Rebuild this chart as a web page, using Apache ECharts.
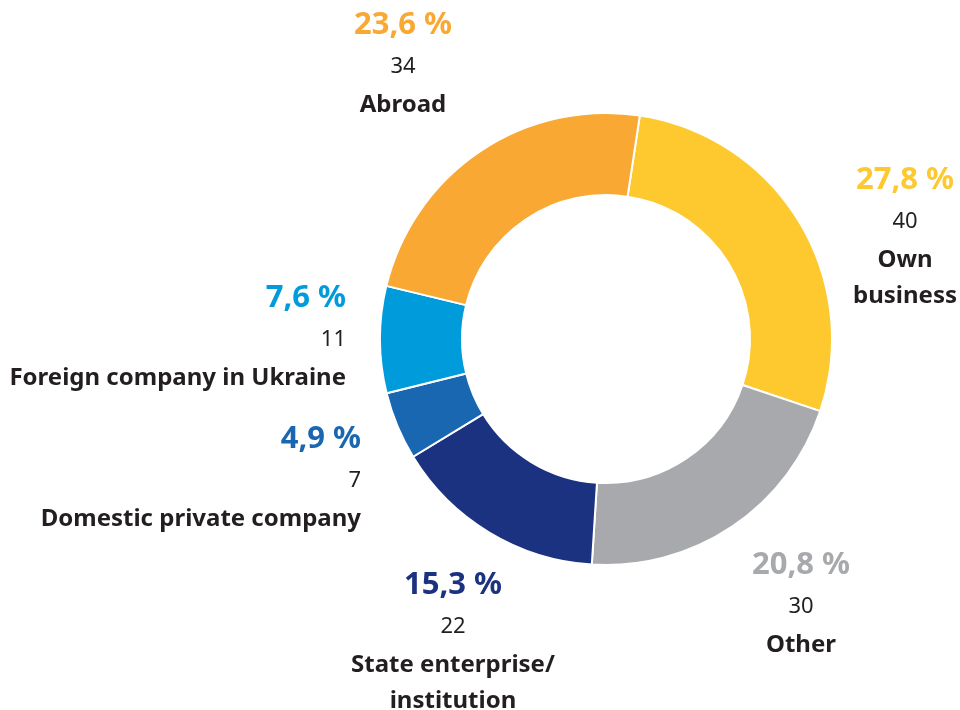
<!DOCTYPE html>
<html>
<head>
<meta charset="utf-8">
<script src="https://cdn.jsdelivr.net/npm/echarts@6/dist/echarts.min.js"></script>
<style>
  html, body { margin: 0; padding: 0; background: #fff; }
  #chart { width: 960px; height: 710px; }
</style>
</head>
<body>
<div id="chart"></div>
<script>
// data, clockwise from the top
const names = ['Own\nbusiness', 'Other', 'State enterprise/\ninstitution', 'Domestic private company', 'Foreign company in Ukraine', 'Abroad'];
const counts = [40, 30, 22, 7, 11, 34];
const percentLabels = ['27,8 %', '20,8 %', '15,3 %', '4,9 %', '7,6 %', '23,6 %'];
const colors = ['#FDC92F', '#A7A9AC', '#1B3281', '#1A67B1', '#009BDB', '#F8A833'];

// where each label block goes (x, top y, align)
const labelPos = [
  {x: 905, y: 158, align: 'center'},
  {x: 801, y: 543, align: 'center'},
  {x: 453, y: 563, align: 'center'},
  {x: 361, y: 417, align: 'right'},
  {x: 346, y: 276, align: 'right'},
  {x: 403, y: 3, align: 'center'}
];

const FONT = '"Noto Sans", sans-serif';

const myChart = echarts.init(document.getElementById('chart'));

// label blocks: percent / count / name
const labels = counts.map((v, i) => ({
  type: 'text',
  x: labelPos[i].x,
  y: labelPos[i].y,
  silent: true,
  style: {
    text: '{p|' + percentLabels[i] + '}\n{c|' + v + '}\n' +
      names[i].split('\n').map(s => '{n|' + s + '}').join('\n'),
    textAlign: labelPos[i].align,
    textVerticalAlign: 'top',
    rich: {
      p: {fontFamily: FONT, fontWeight: 'bold', fontSize: 31, lineHeight: 44, fill: colors[i]},
      c: {fontFamily: FONT, fontSize: 22, lineHeight: 40, fill: '#231F20'},
      n: {fontFamily: FONT, fontWeight: 'bold', fontSize: 24, lineHeight: 36, fill: '#231F20'}
    }
  }
}));

const option = {
  animation: false,
  graphic: labels,
  series: [{
    type: 'pie',
    center: [606, 339],
    radius: [144, 226],
    startAngle: 81.4,
    clockwise: true,
    itemStyle: {borderColor: '#fff', borderWidth: 2},
    label: {show: false},
    labelLine: {show: false},
    emphasis: {disabled: true},
    data: counts.map((v, i) => ({
      value: v,
      name: names[i],
      itemStyle: {color: colors[i]}
    }))
  }]
};

myChart.setOption(option);
</script>
</body>
</html>
